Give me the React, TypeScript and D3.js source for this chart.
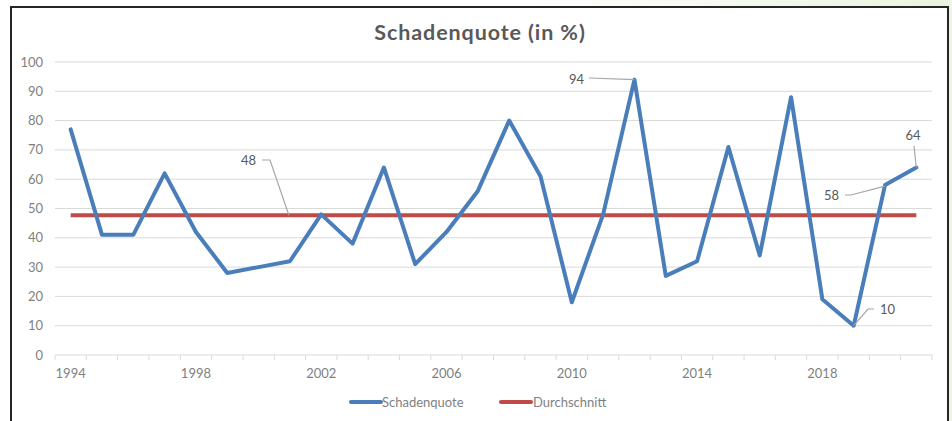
import React from "react";
import * as d3 from "d3";

const years: string[] = [
  "1994","1995","1996","1997","1998","1999","2000","2001","2002","2003",
  "2004","2005","2006","2007","2008","2009","2010","2011","2012","2013",
  "2014","2015","2016","2017","2018","2019","2020","2021",
];
const schadenquote: number[] = [
  77, 41, 41, 62, 42, 28, 30, 32, 48, 38,
  64, 31, 42, 56, 80, 61, 18, 48, 94, 27,
  32, 71, 34, 88, 19, 10, 58, 64,
];
const durchschnitt = 47.7;
const yTicks: number[] = [0, 10, 20, 30, 40, 50, 60, 70, 80, 90, 100];
const xTickLabels: string[] = ["1994", "1998", "2002", "2006", "2010", "2014", "2018"];
const seriesNames: string[] = ["Schadenquote", "Durchschnitt"];

const W = 952;
const H = 421;
const FONT = "Lato, 'Open Sans', sans-serif";
const BLUE = "#4a7ebb";
const RED = "#be4b48";
const GRID = "#d9d9d9";
const TEXT = "#7f7f7f";

export default function App() {
  const left = 55;
  const right = 932;
  const top = 62;
  const bottom = 355;

  const x = d3.scaleBand<string>().domain(years).range([left, right]);
  const y = d3.scaleLinear().domain([0, 100]).range([bottom, top]);
  const cx = (yr: string) => (x(yr) as number) + x.bandwidth() / 2;

  const line = d3
    .line<number>()
    .x((_, i) => cx(years[i]))
    .y((d) => y(d));

  const avgLine = d3
    .line<string>()
    .x((yr) => cx(yr))
    .y(() => y(durchschnitt));

  const tickXs = years.map((yr) => x(yr) as number).concat([right]);

  const idx = (yr: string) => years.indexOf(yr);
  const p = (yr: string) => [cx(yr), y(schadenquote[idx(yr)])];
  const p94 = p("2012");
  const p58 = p("2020");
  const p64 = p("2021");
  const p10 = p("2019");
  const avgPt = [cx("2001") - 1, y(durchschnitt)];

  return (
    <svg
      width={W}
      height={H}
      style={{ position: "absolute", left: 0, top: 0, display: "block" }}
    >
      <defs>
        <linearGradient id="bgGrad" x1="0" x2="1" y1="0" y2="0">
          <stop offset="0" stopColor="#ffffff" />
          <stop offset="0.55" stopColor="#ffffff" />
          <stop offset="1" stopColor="#eaf3df" />
        </linearGradient>
      </defs>
      <rect x={0} y={0} width={W} height={H} fill="url(#bgGrad)" />
      <rect x={950} y={0} width={2} height={H} fill="#eef4e6" />
      <rect x={11} y={7} width={937} height={H} fill="#ffffff" stroke="#262626" strokeWidth={2} />

      <text
        x={480}
        y={40}
        textAnchor="middle"
        fontFamily={FONT}
        fontWeight="bold"
        fontSize={21.5}
        letterSpacing={0.9}
        fill="#595959"
      >
        Schadenquote (in %)
      </text>

      {yTicks.map((t) => (
        <g key={t}>
          {t > 0 && (
            <line x1={left} x2={right} y1={y(t)} y2={y(t)} stroke={GRID} strokeWidth={1} />
          )}
          <text
            x={43}
            y={y(t) + 4.5}
            textAnchor="end"
            fontFamily={FONT}
            fontSize={13}
            fill={TEXT}
          >
            {t}
          </text>
        </g>
      ))}

      <line x1={left} x2={right} y1={bottom} y2={bottom} stroke={GRID} strokeWidth={1} />
      {tickXs.map((tx, i) => (
        <line key={i} x1={tx} x2={tx} y1={bottom} y2={bottom + 5} stroke={GRID} strokeWidth={1} />
      ))}
      {xTickLabels.map((lab) => (
        <text
          key={lab}
          x={cx(lab)}
          y={378}
          textAnchor="middle"
          fontFamily={FONT}
          fontSize={13}
          fill={TEXT}
        >
          {lab}
        </text>
      ))}

      <path d={avgLine(years) || ""} fill="none" stroke={RED} strokeWidth={4} />
      <path
        d={line(schadenquote) || ""}
        fill="none"
        stroke={BLUE}
        strokeWidth={4}
        strokeLinejoin="round"
        strokeLinecap="round"
      />

      {/* data labels with leader lines */}
      <g fontFamily={FONT} fontSize={13} fill="#595959" stroke="none">
        <polyline
          points={`262,160 270,160 ${avgPt[0]},${avgPt[1]}`}
          fill="none"
          stroke="#a6a6a6"
          strokeWidth={1.2}
        />
        <text x={256} y={165} textAnchor="end">48</text>

        <polyline
          points={`589,78 ${p94[0]},${p94[1]}`}
          fill="none"
          stroke="#a6a6a6"
          strokeWidth={1.2}
        />
        <text x={584} y={84} textAnchor="end">94</text>

        <polyline
          points={`845,195 851,195 ${p58[0]},${p58[1] + 1}`}
          fill="none"
          stroke="#a6a6a6"
          strokeWidth={1.2}
        />
        <text x={839} y={200} textAnchor="end">58</text>

        <polyline
          points={`914,146 ${p64[0]},${p64[1]}`}
          fill="none"
          stroke="#a6a6a6"
          strokeWidth={1.2}
        />
        <text x={913} y={140} textAnchor="middle">64</text>

        <polyline
          points={`874,309 868,309 ${p10[0]},${p10[1]}`}
          fill="none"
          stroke="#a6a6a6"
          strokeWidth={1.2}
        />
        <text x={880} y={314}>10</text>
      </g>

      {/* legend */}
      <g fontFamily={FONT} fontSize={13} fill={TEXT}>
        <line x1={351} x2={381} y1={402} y2={402} stroke={BLUE} strokeWidth={4} strokeLinecap="round" />
        <text x={382} y={407}>{seriesNames[0]}</text>
        <line x1={501} x2={531} y1={402} y2={402} stroke={RED} strokeWidth={4} strokeLinecap="round" />
        <text x={533} y={407}>{seriesNames[1]}</text>
      </g>
    </svg>
  );
}
